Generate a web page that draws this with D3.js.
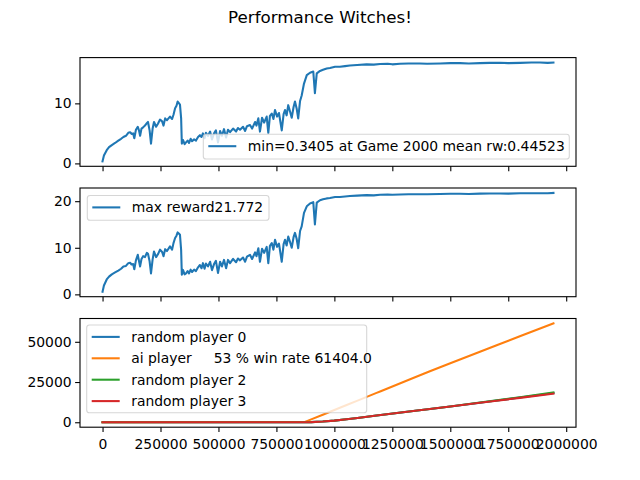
<!DOCTYPE html>
<html><head><meta charset="utf-8">
<script src="https://cdn.jsdelivr.net/npm/d3@7"></script>
<style>body{margin:0;background:#fff}text{font-family:"DejaVu Sans",sans-serif}</style>
</head><body><svg id="c" width="640" height="480"></svg>
<script>
// x positions in thousands of steps
const gameK = [0,6,18,28,40,54,68,80,90,101,111,119,125,132,137,144,152,157,162,168,175,183,191,196,203,209,216,222,231,239,248,257,263,270,278,291,300,306,313,319,324,330,334,339,342,347,354,360,367,373,380,386,395,403,412,420,427,433,440,446,455,464,472,481,489,498,507,515,524,533,541,550,563,576,584,593,606,615,623,636,645,658,664,672,679,688,697,708,715,722,730,737,744,753,761,773,781,787,794,801,809,816,824,830,837,844,852,859,869,881,895,909,916,924,938,951,967,981,1003,1024,1046,1067,1098,1139,1170,1197,1230,1250,1283,1320,1369,1400,1456,1500,1542,1580,1628,1670,1714,1750,1801,1850,1887,1920,1945];
const minReward = [0.34,1.3,2.2,2.7,3.05,3.4,3.8,4.1,4.4,4.6,5.1,5.2,4.9,5.0,4.2,5.6,6.1,5.5,4.6,5.8,6.0,6.3,6.7,6.9,5.5,3.3,5.8,6.9,6.1,6.6,7.3,7.0,6.3,7.5,7.2,7.8,7.4,8.1,9.2,9.6,10.3,10.0,9.8,7.5,3.3,3.9,3.2,3.5,3.8,3.4,4.1,3.7,4.0,3.8,4.4,4.7,4.4,5.0,4.2,5.1,4.6,5.3,4.0,5.0,5.5,3.5,5.4,4.6,5.7,4.3,5.6,5.2,5.8,5.3,5.9,5.6,6.1,5.4,6.2,6.4,5.8,6.9,6.3,7.5,5.3,7.6,6.8,7.8,5.1,7.9,8.3,7.4,8.9,7.8,8.4,5.5,8.2,8.9,8.0,9.7,8.6,7.6,9.4,10.3,9.2,7.5,10.4,11.3,13.3,14.7,15.1,15.3,11.7,15.0,15.4,15.6,15.8,15.9,16.1,16.1,16.2,16.3,16.4,16.5,16.45,16.55,16.6,16.5,16.6,16.65,16.65,16.6,16.65,16.7,16.7,16.65,16.7,16.75,16.77,16.7,16.75,16.8,16.8,16.75,16.8];
const maxReward = [0.56,1.9,3.2,3.8,4.3,4.7,5.1,5.5,6.0,6.1,6.7,6.8,6.4,6.5,5.4,7.3,8.5,7.2,6.0,7.6,8.2,8.0,8.9,8.7,7.1,4.5,7.5,9.2,8.0,8.6,9.6,9.1,8.2,9.7,9.3,10.3,9.6,11.0,12.1,12.6,13.3,13.0,12.8,9.5,4.2,5.25,4.3,4.5,5.0,4.5,5.3,4.8,5.3,5.0,5.8,6.3,5.6,6.7,5.5,6.6,6.0,7.0,5.2,6.5,7.2,4.6,7.0,6.0,7.4,5.6,7.4,6.7,7.6,6.9,7.7,7.3,7.9,7.0,8.1,8.5,7.6,9.0,8.2,9.9,7.0,9.8,8.9,10.2,6.7,10.4,11.0,9.6,11.7,10.2,10.9,7.0,10.8,11.7,10.5,12.4,11.2,10.0,12.3,13.2,12.0,9.9,13.6,14.6,17.5,18.9,19.5,19.8,15.0,19.7,20.2,20.4,20.6,20.7,20.9,20.9,21.0,21.1,21.2,21.3,21.25,21.4,21.45,21.4,21.45,21.5,21.5,21.5,21.55,21.6,21.6,21.55,21.62,21.65,21.66,21.62,21.7,21.72,21.72,21.7,21.77];

// bottom panel: cumulative wins
const winsK = [0,873,900,950,1000,1053,1100,1182,1200,1340,1412,1500,1628,1700,1800,1945];
const randomPlayer0 = [0,0,100,450,1000,1850,2700,4160,4480,6970,8250,9820,12180,13500,15330,18100];
const aiPlayer      = [0,200,1800,4700,7600,10700,13450,18250,19300,27500,31700,36700,43800,47800,53400,61404];
const randomPlayer2 = [0,0,100,450,1000,1850,2700,4160,4480,6970,8250,9820,12250,13600,15500,18500];
const randomPlayer3 = [0,0,100,450,1000,1850,2700,4160,4480,6970,8250,9820,12100,13380,15160,17740];

const xTicks = [0,250000,500000,750000,1000000,1250000,1500000,1750000,2000000];
const yTicksTop = [0,10];
const yTicksMid = [0,10,20];
const yTicksBot = [0,25000,50000];

const title = "Performance Witches!";
const labelTop = "min=0.3405 at Game 2000 mean rw:0.44523";
const labelMid = "max reward21.772";
const labelsBot = ["random player 0","ai player     53 % win rate 61404.0","random player 2","random player 3"];
const colors = ["#1f77b4","#ff7f0e","#2ca02c","#d62728"];

const svg = d3.select("#c");
const L = 80, R = 576;
const panels = [[57.6,166.3],[188.0,296.7],[318.5,427.2]];
const xs = gameK.map(k=>k*1000);
const ws = winsK.map(k=>k*1000);
const xmax = d3.max(xs);
const x = d3.scaleLinear().domain([-0.05*xmax, 1.05*xmax]).range([L,R]);

svg.append("text").attr("x",320).attr("y",23).attr("text-anchor","middle")
  .attr("font-size","16.7px").text(title);

function yScale(vals, top, bot){
  const lo = d3.min(vals), hi = d3.max(vals), r = hi-lo;
  return d3.scaleLinear().domain([lo-0.05*r, hi+0.05*r]).range([bot, top]);
}

function drawPanel(idx, series, yTicks, showX){
  const [top,bot] = panels[idx];
  const all = series.flatMap(s=>s.y);
  const y = yScale(all, top, bot);
  const g = svg.append("g");
  const clipId = "clip"+idx;
  svg.append("clipPath").attr("id",clipId).append("rect")
    .attr("x",L).attr("y",top).attr("width",R-L).attr("height",bot-top);
  const lg = g.append("g").attr("clip-path",`url(#${clipId})`);
  series.forEach(s=>{
    lg.append("path").datum(s.x.map((xv,i)=>[xv,s.y[i]]))
      .attr("fill","none").attr("stroke",s.color).attr("stroke-width",2.08)
      .attr("stroke-linejoin","round").attr("stroke-linecap","square")
      .attr("d", d3.line().x(d=>x(d[0])).y(d=>y(d[1])));
  });
  const xa = d3.axisBottom(x).tickValues(xTicks).tickSize(4.9).tickPadding(3.5)
    .tickFormat(showX ? d3.format("d") : "");
  const gx = g.append("g").attr("transform",`translate(0,${bot})`).call(xa);
  const ya = d3.axisLeft(y).tickValues(yTicks).tickSize(4.9).tickPadding(3.5).tickFormat(d3.format("d"));
  const gy = g.append("g").attr("transform",`translate(${L},0)`).call(ya);
  [gx,gy].forEach(a=>{
    a.select(".domain").remove();
    a.selectAll(".tick line").attr("stroke","#000").attr("stroke-width",1.1);
    a.selectAll(".tick text").attr("font-size","13.9px").attr("fill","#000")
      .attr("font-family","DejaVu Sans, sans-serif");
  });
  gx.selectAll(".tick text").attr("dy","0.95em");
  g.append("rect").attr("x",L).attr("y",top).attr("width",R-L).attr("height",bot-top)
    .attr("fill","none").attr("stroke","#000").attr("stroke-width",1.1);
  return g;
}

function legend(bx, by, bw, bh, items){
  const g = svg.append("g");
  g.append("rect").attr("x",bx).attr("y",by).attr("width",bw).attr("height",bh)
    .attr("rx",2.8).attr("fill","rgba(255,255,255,0.8)").attr("stroke","rgba(204,204,204,0.8)").attr("stroke-width",1.1);
  items.forEach((it,i)=>{
    const cy = by + 11.9 + i*21.4;
    g.append("line").attr("x1",bx+5).attr("x2",bx+33).attr("y1",cy).attr("y2",cy)
      .attr("stroke",it.color).attr("stroke-width",2.08);
    g.append("text").attr("x",bx+44.5).attr("y",cy+5).attr("font-size","13.9px")
      .style("white-space","pre").text(it.label);
  });
}

drawPanel(0,[{x:xs,y:minReward,color:colors[0]}],yTicksTop,false);
legend(203.3,134.3,366,24.7,[{label:labelTop,color:colors[0]}]);
drawPanel(1,[{x:xs,y:maxReward,color:colors[0]}],yTicksMid,false);
legend(87.3,195.5,181.7,24.7,[{label:labelMid,color:colors[0]}]);
drawPanel(2,[
  {x:ws,y:randomPlayer0,color:colors[0]},
  {x:ws,y:aiPlayer,color:colors[1]},
  {x:ws,y:randomPlayer2,color:colors[2]},
  {x:ws,y:randomPlayer3,color:colors[3]}],yTicksBot,true);
legend(86.7,325,280,87.7,labelsBot.map((l,i)=>({label:l,color:colors[i]})));
</script></body></html>
